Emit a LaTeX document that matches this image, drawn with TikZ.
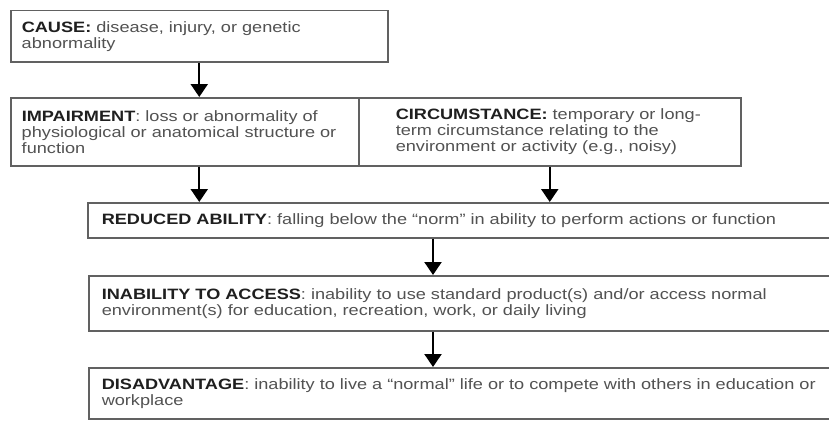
\documentclass[tikz,border=0pt]{standalone}
\usepackage{fontspec}
\setmainfont{Liberation Sans}[FakeStretch=1.21]
\usetikzlibrary{arrows.meta}
\newcommand\hdr[1]{\textbf{\color{black!88}#1}}
\begin{document}
\begin{tikzpicture}[x=1pt,y=-1pt,
  box/.style={draw=black!62, line width=1.5pt, anchor=north west, align=left,
    inner ysep=2pt, font=\fontsize{15}{16}\selectfont, text=black!68},
  arr/.style={draw=black, line width=2.2pt, -{Triangle[width=17pt,length=13pt]}}]
\clip (0,0) rectangle (829,420);
\fill[white] (0,0) rectangle (829,420);
\coordinate (mid) at (433,0);
\node[box, text width=355pt, inner xsep=11pt, minimum height=51pt] (cause) at (10,10)
  {\mbox{\hdr{CAUSE:} disease, injury, or genetic}\\\mbox{abnormality}};
\node[box, text width=326pt, inner xsep=11pt, minimum height=68pt] (impair) at (10,97)
  {\mbox{\hdr{IMPAIRMENT}: loss or abnormality of}\\\mbox{physiological or anatomical structure or}\\\mbox{function}};
\node[box, text width=308pt, inner xsep=37pt, minimum height=68pt] (circ) at (358,97)
  {\mbox{\hdr{CIRCUMSTANCE:} temporary or long-}\\\mbox{term circumstance relating to the}\\\mbox{environment or activity (e.g., noisy)}};
\node[box, text width=780pt, inner xsep=14pt, minimum height=35pt] (reduced) at (87,202)
  {\mbox{\hdr{REDUCED ABILITY}: falling below the “norm” in ability to perform actions or function}};
\node[box, text width=780pt, inner xsep=13pt, minimum height=55pt] (inab) at (88,275)
  {\mbox{\hdr{INABILITY TO ACCESS}: inability to use standard product(s) and/or access normal}\\\mbox{environment(s) for education, recreation, work, or daily living}};
\node[box, text width=780pt, inner xsep=13pt, minimum height=51pt] (disadv) at (88,367)
  {\mbox{\hdr{DISADVANTAGE}: inability to live a “normal” life or to compete with others in education or}\\\mbox{workplace}};
\draw[arr] (cause.south) -- (cause.south |- impair.north);
\draw[arr] (cause.south |- impair.south) -- (cause.south |- reduced.north);
\draw[arr] (circ.south) -- (circ.south |- reduced.north);
\draw[arr] (reduced.south -| mid) -- (inab.north -| mid);
\draw[arr] (inab.south -| mid) -- (disadv.north -| mid);
\end{tikzpicture}
\end{document}
